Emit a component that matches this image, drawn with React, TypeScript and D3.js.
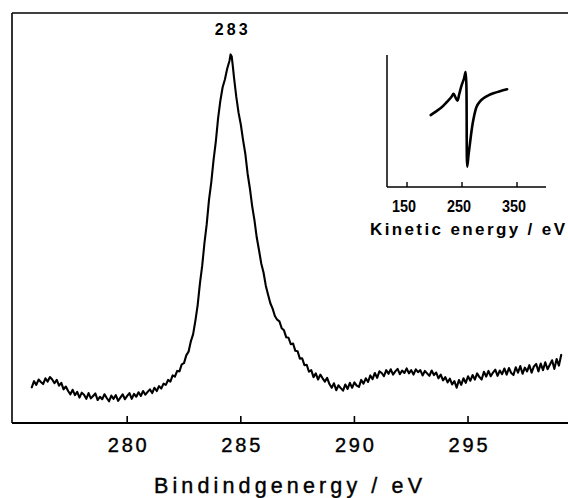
import React from "react";
import * as d3 from "d3";

// ---- Main XPS spectrum (binding energy eV, intensity a.u.) ----
const leftBaseline: [number, number][] = [
  [275.8, 8.7], [275.9, 10.2], [276.0, 9.3], [276.1, 10.6], [276.2, 10.0], [276.3, 9.5], [276.4, 10.9],
  [276.5, 10.1], [276.6, 11.2], [276.7, 10.6], [276.8, 9.7], [276.9, 10.5], [277.0, 9.1], [277.1, 9.8],
  [277.2, 8.2], [277.3, 8.9], [277.4, 7.8], [277.5, 7.0], [277.6, 8.1], [277.7, 6.8], [277.8, 7.6],
  [277.9, 6.2], [278.0, 7.4], [278.1, 6.9], [278.2, 5.9], [278.3, 7.3], [278.4, 6.0], [278.5, 6.6],
  [278.6, 7.2], [278.7, 5.6], [278.8, 6.4], [278.9, 5.8], [279.0, 7.0], [279.1, 6.1], [279.2, 5.3],
  [279.3, 6.7], [279.4, 5.9], [279.5, 6.8], [279.6, 5.4], [279.7, 6.2], [279.8, 7.0], [279.9, 5.8],
  [280.0, 6.6], [280.1, 7.3], [280.2, 5.9], [280.3, 7.1], [280.4, 6.4], [280.5, 7.5], [280.6, 6.6],
  [280.7, 7.8], [280.8, 6.9], [280.9, 7.6], [281.0, 8.2], [281.1, 7.3], [281.2, 8.6], [281.3, 7.8],
  [281.4, 9.0], [281.5, 8.4], [281.6, 9.6], [281.7, 9.3], [281.8, 10.5], [281.9, 10.1], [282.0, 11.6],
  [282.1, 11.3], [282.2, 12.7], [282.3, 12.6], [282.4, 14.3], [282.5, 14.6], [282.6, 16.5],
  [282.7, 17.4], [282.8, 19.9],
];

const peak: [number, number][] = [
  [282.9, 21.6], [283.0, 24.9], [283.1, 28.7], [283.2, 34.0], [283.3, 38.3], [283.4, 43.9],
  [283.5, 48.5], [283.6, 54.4], [283.7, 58.7], [283.8, 64.1], [283.9, 68.6], [284.0, 74.3],
  [284.1, 78.6], [284.2, 81.9], [284.3, 83.8], [284.4, 86.4], [284.5, 88.3], [284.55, 89.9],
  [284.6, 89.4], [284.65, 87.0], [284.7, 84.3], [284.8, 79.6], [284.9, 75.7], [285.0, 72.8],
  [285.1, 69.0], [285.2, 65.6], [285.3, 60.8], [285.4, 57.2], [285.5, 52.9], [285.6, 49.5],
  [285.7, 45.3], [285.8, 42.2], [285.9, 38.9], [286.0, 36.7], [286.1, 33.5], [286.2, 31.3],
  [286.3, 29.2], [286.4, 27.9], [286.5, 26.1], [286.6, 25.2], [286.7, 24.8], [286.8, 23.1],
  [286.9, 22.6], [287.0, 20.9], [287.1, 20.8], [287.2, 19.2], [287.3, 19.4], [287.4, 17.6],
  [287.5, 17.5], [287.6, 15.7], [287.7, 15.8], [287.8, 14.1], [287.9, 14.2], [288.0, 12.5],
];

const rightBaseline: [number, number][] = [
  [288.1, 12.9], [288.2, 11.2], [288.3, 12.1], [288.4, 10.6], [288.5, 11.8], [288.6, 10.9],
  [288.7, 10.1], [288.8, 11.0], [288.9, 9.5], [289.0, 8.6], [289.1, 9.7], [289.2, 8.0],
  [289.3, 9.2], [289.4, 8.5], [289.5, 7.9], [289.6, 9.4], [289.7, 8.3], [289.8, 9.8],
  [289.9, 8.6], [290.0, 9.9], [290.1, 9.1], [290.2, 8.8], [290.3, 10.5], [290.4, 9.6],
  [290.5, 10.9], [290.6, 10.0], [290.7, 11.6], [290.8, 10.7], [290.9, 12.2], [291.0, 11.0],
  [291.1, 12.6], [291.2, 12.2], [291.3, 11.4], [291.4, 12.9], [291.5, 12.0], [291.6, 13.1],
  [291.7, 11.8], [291.8, 12.6], [291.9, 13.2], [292.0, 11.9], [292.1, 12.8], [292.2, 12.2],
  [292.3, 13.3], [292.4, 12.1], [292.5, 12.9], [292.6, 11.8], [292.7, 13.1], [292.8, 12.4],
  [292.9, 12.9], [293.0, 11.6], [293.1, 12.7], [293.2, 12.1], [293.3, 11.5], [293.4, 12.8],
  [293.5, 11.7], [293.6, 12.3], [293.7, 10.9], [293.8, 11.8], [293.9, 10.4], [294.0, 11.2],
  [294.1, 9.9], [294.2, 10.8], [294.3, 9.4], [294.4, 10.2], [294.5, 8.6], [294.6, 10.5],
  [294.7, 9.3], [294.8, 10.9], [294.9, 9.8], [295.0, 11.4], [295.1, 10.3], [295.2, 11.7],
  [295.3, 10.6], [295.4, 12.1], [295.5, 11.2], [295.6, 10.6], [295.7, 12.5], [295.8, 11.3],
  [295.9, 12.7], [296.0, 11.4], [296.1, 12.3], [296.2, 13.0], [296.3, 11.5], [296.4, 12.8],
  [296.5, 11.9], [296.6, 13.3], [296.7, 11.8], [296.8, 13.4], [296.9, 12.2], [297.0, 11.7],
  [297.1, 13.6], [297.2, 12.3], [297.3, 13.9], [297.4, 12.0], [297.5, 13.5], [297.6, 12.6],
  [297.7, 14.1], [297.8, 12.3], [297.9, 13.8], [298.0, 14.4], [298.1, 12.6], [298.2, 14.5],
  [298.3, 12.9], [298.4, 14.8], [298.5, 13.1], [298.6, 14.2], [298.7, 15.3], [298.8, 13.2],
  [298.9, 15.6], [299.0, 14.0], [299.1, 16.6],
];

const mainTicks = [280, 285, 290, 295];
const peakLabel = "283";
const peakLabelEnergy = 284.58;
const xTitle = "Bindindgenergy / eV";

// ---- Inset: Auger (kinetic energy eV, derivative signal a.u.) ----
const insetCurve: [number, number][] = [
  [193, 54.5], [203, 57.3], [213, 60.4], [222, 64.2], [231, 68.4], [234.5, 70.6],
  [241.5, 65.4], [245, 70.5], [249.5, 77.3], [253.5, 82], [256.5, 87], [259.5, 15.4],
  [262, 25], [264.5, 33.1], [267.5, 43], [270.5, 50.8], [276.5, 60.8], [282, 64.5],
  [289, 67.2], [298, 69.4], [307, 71.0], [319, 72.6], [332, 74.0],
];
const insetTicks = [150, 250, 350];
const insetTitle = "Kinetic energy / eV";

export default function App() {
  const W = 568, H = 498;
  const x = d3.scaleLinear().domain([274.93, 299.4]).range([12, 568]);
  const y = d3.scaleLinear().domain([0, 100]).range([423, 13]);
  const line = d3.line<[number, number]>().x(d => x(d[0])).y(d => y(d[1]));
  const spectrum = [...leftBaseline, ...peak, ...rightBaseline];

  const ix = d3.scaleLinear().domain([113.6, 402.7]).range([387, 546]);
  const iy = d3.scaleLinear().domain([0, 100]).range([187, 55]);
  const iline = d3.line<[number, number]>().x(d => ix(d[0])).y(d => iy(d[1])).curve(d3.curveCatmullRom.alpha(0.5));

  const font = "'Liberation Sans', Arial, Helvetica, sans-serif";
  const [x0, x1] = x.range();
  const [y0, yTop] = y.range();

  return (
    <svg width={W} height={H} style={{ position: "absolute", left: 0, top: 0, background: "#fff" }}
      fontFamily={font}>
      <rect x={0} y={0} width={W} height={H} fill="#fff" />
      {/* frame */}
      <line x1={x0} x2={x1} y1={yTop} y2={yTop} stroke="#000" strokeWidth={1.4} />
      <line x1={x0} x2={x0} y1={yTop} y2={y0} stroke="#000" strokeWidth={1.6} />
      <line x1={x0} x2={x1} y1={y0} y2={y0} stroke="#000" strokeWidth={1.8} />
      {mainTicks.map(t => (
        <g key={t}>
          <line x1={x(t)} x2={x(t)} y1={y0} y2={y0 - 7} stroke="#000" strokeWidth={1.6} />
          <text x={x(t)} y={452} textAnchor="middle" fontSize={20} textLength={39}
            lengthAdjust="spacing" fill="#000" stroke="#000" strokeWidth={0.4}>{t}</text>
        </g>
      ))}
      <text x={(154 + 422) / 2} y={493} textAnchor="middle" fontSize={21.5} textLength={268}
        lengthAdjust="spacing" fill="#000" stroke="#000" strokeWidth={0.4}>{xTitle}</text>
      <path d={line(spectrum) || ""} fill="none" stroke="#000" strokeWidth={2.1}
        strokeLinejoin="round" strokeLinecap="round" />
      <text x={x(peakLabelEnergy)} y={35} textAnchor="middle" fontSize={16} fontWeight="bold"
        textLength={33} lengthAdjust="spacing" fill="#000">{peakLabel}</text>

      {/* inset */}
      <line x1={ix.range()[0]} x2={ix.range()[0]} y1={iy.range()[1]} y2={iy.range()[0]} stroke="#000" strokeWidth={1.5} />
      <line x1={ix.range()[0]} x2={ix.range()[1]} y1={iy.range()[0]} y2={iy.range()[0]} stroke="#000" strokeWidth={1.5} />
      {insetTicks.map(t => (
        <g key={t}>
          <line x1={ix(t)} x2={ix(t)} y1={iy.range()[0]} y2={iy.range()[0] - 5} stroke="#000" strokeWidth={1.4} />
          <text x={ix(t) - 3} y={212} textAnchor="middle" fontSize={17} fontWeight="bold"
            textLength={24} lengthAdjust="spacingAndGlyphs" fill="#000">{t}</text>
        </g>
      ))}
      <text x={370} y={235} fontSize={17} fontWeight="bold" textLength={195}
        lengthAdjust="spacing" fill="#000">{insetTitle}</text>
      <path d={iline(insetCurve) || ""} fill="none" stroke="#000" strokeWidth={2.6}
        strokeLinejoin="round" strokeLinecap="round" />
    </svg>
  );
}
